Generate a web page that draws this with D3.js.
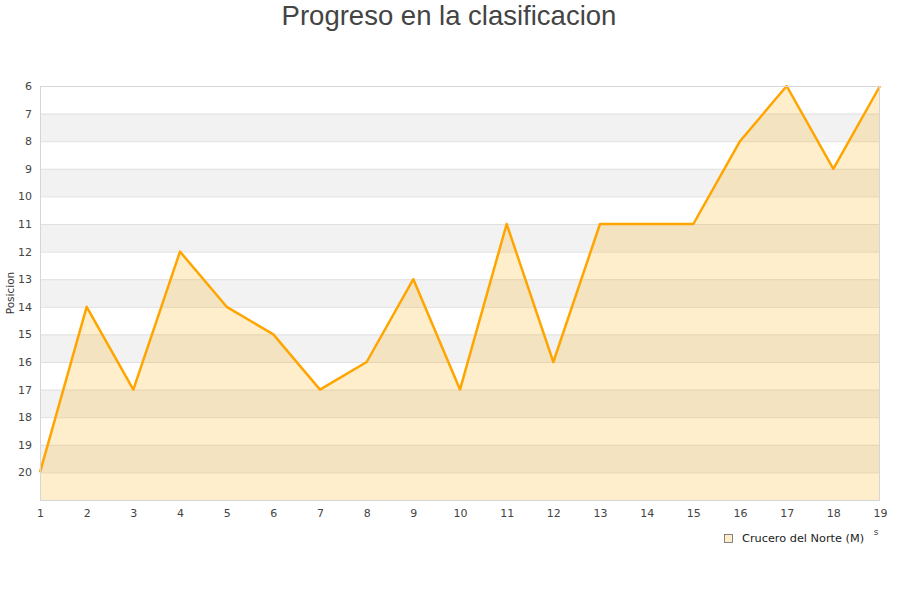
<!DOCTYPE html>
<html><head><meta charset="utf-8">
<script src="https://cdn.jsdelivr.net/npm/d3@7"></script>
<style>body{margin:0;background:#fff}</style>
</head><body>
<svg id="c" width="900" height="600"></svg>
<script>
const jornadas = [1,2,3,4,5,6,7,8,9,10,11,12,13,14,15,16,17,18,19];
const posiciones = [20,14,17,12,14,15,17,16,13,17,11,16,11,11,11,8,6,9,6];
const yTicks = [6,7,8,9,10,11,12,13,14,15,16,17,18,19,20];
const serieNombre = "Crucero del Norte (M)";
const titulo = "Progreso en la clasificacion";
const yTitulo = "Posicion";

const svg = d3.select("#c");
const L = 40, R = 880, T = 86, B = 500;
const x = d3.scaleLinear().domain([1,19]).range([L,R]);
const y = d3.scaleLinear().domain([6,21]).range([T,B]);

// bands
const bands = d3.range(7,21,2);
svg.append("g").selectAll("rect").data(bands).join("rect")
  .attr("x",L).attr("width",R-L)
  .attr("y",d=>y(d)).attr("height",d=>y(d+1)-y(d))
  .attr("fill","#f2f2f2");

// grid lines
svg.append("g").selectAll("line").data(d3.range(6,22)).join("line")
  .attr("x1",L).attr("x2",R).attr("y1",d=>y(d)+0.5).attr("y2",d=>y(d)+0.5)
  .attr("stroke","#e0e0e0").attr("stroke-width",1);

// area
const data = jornadas.map((j,i)=>({j,p:posiciones[i]}));
svg.append("path").datum(data)
  .attr("d",d3.area().x(d=>x(d.j)).y0(y(21)).y1(d=>y(d.p)))
  .attr("fill","rgba(255,170,0,0.2)");
svg.append("path").datum(data)
  .attr("d",d3.line().x(d=>x(d.j)).y(d=>y(d.p)))
  .attr("fill","none").attr("stroke","#FFA500").attr("stroke-width",2.5)
  .attr("stroke-linejoin","round");

// borders
svg.append("rect").attr("x",L+0.5).attr("y",T+0.5).attr("width",R-L-1).attr("height",B-T)
  .attr("fill","none").attr("stroke","#d6d6d6");

// y axis labels
const yAxis = d3.axisLeft(y).tickValues(yTicks).tickSize(0).tickPadding(8);
const gy = svg.append("g").attr("transform",`translate(${L},0)`).call(yAxis);
gy.select(".domain").remove();
gy.selectAll("text").attr("font-family","DejaVu Sans").attr("font-size",11).attr("fill","#444");

// x axis labels
const xAxis = d3.axisBottom(x).tickValues(jornadas).tickSize(0).tickPadding(9);
const gx = svg.append("g").attr("transform",`translate(0,${B})`).call(xAxis);
gx.select(".domain").remove();
gx.selectAll("text").attr("font-family","DejaVu Sans").attr("font-size",11).attr("fill","#444");

// title
svg.append("text").attr("x",449).attr("y",25).attr("text-anchor","middle")
  .attr("font-family","Liberation Sans, Arial").attr("font-size",27.5).attr("fill","#444").text(titulo);

// y title
svg.append("text").attr("transform","translate(14,293) rotate(-90)").attr("text-anchor","middle")
  .attr("font-family","DejaVu Sans").attr("font-size",10.5).attr("fill","#333").text(yTitulo);

// stray x title fragment
svg.append("text").attr("x",876).attr("y",535).attr("text-anchor","middle")
  .attr("font-family","DejaVu Sans").attr("font-size",9).attr("fill","#444").text("s");

// legend
svg.append("rect").attr("x",724.5).attr("y",534.5).attr("width",8).attr("height",8)
  .attr("fill","#ffedcc").attr("stroke","#666").attr("stroke-width",0.8);
svg.append("text").attr("x",742).attr("y",542).attr("font-family","DejaVu Sans")
  .attr("font-size",11.3).attr("fill","#222").text(serieNombre);
</script>
</body></html>
